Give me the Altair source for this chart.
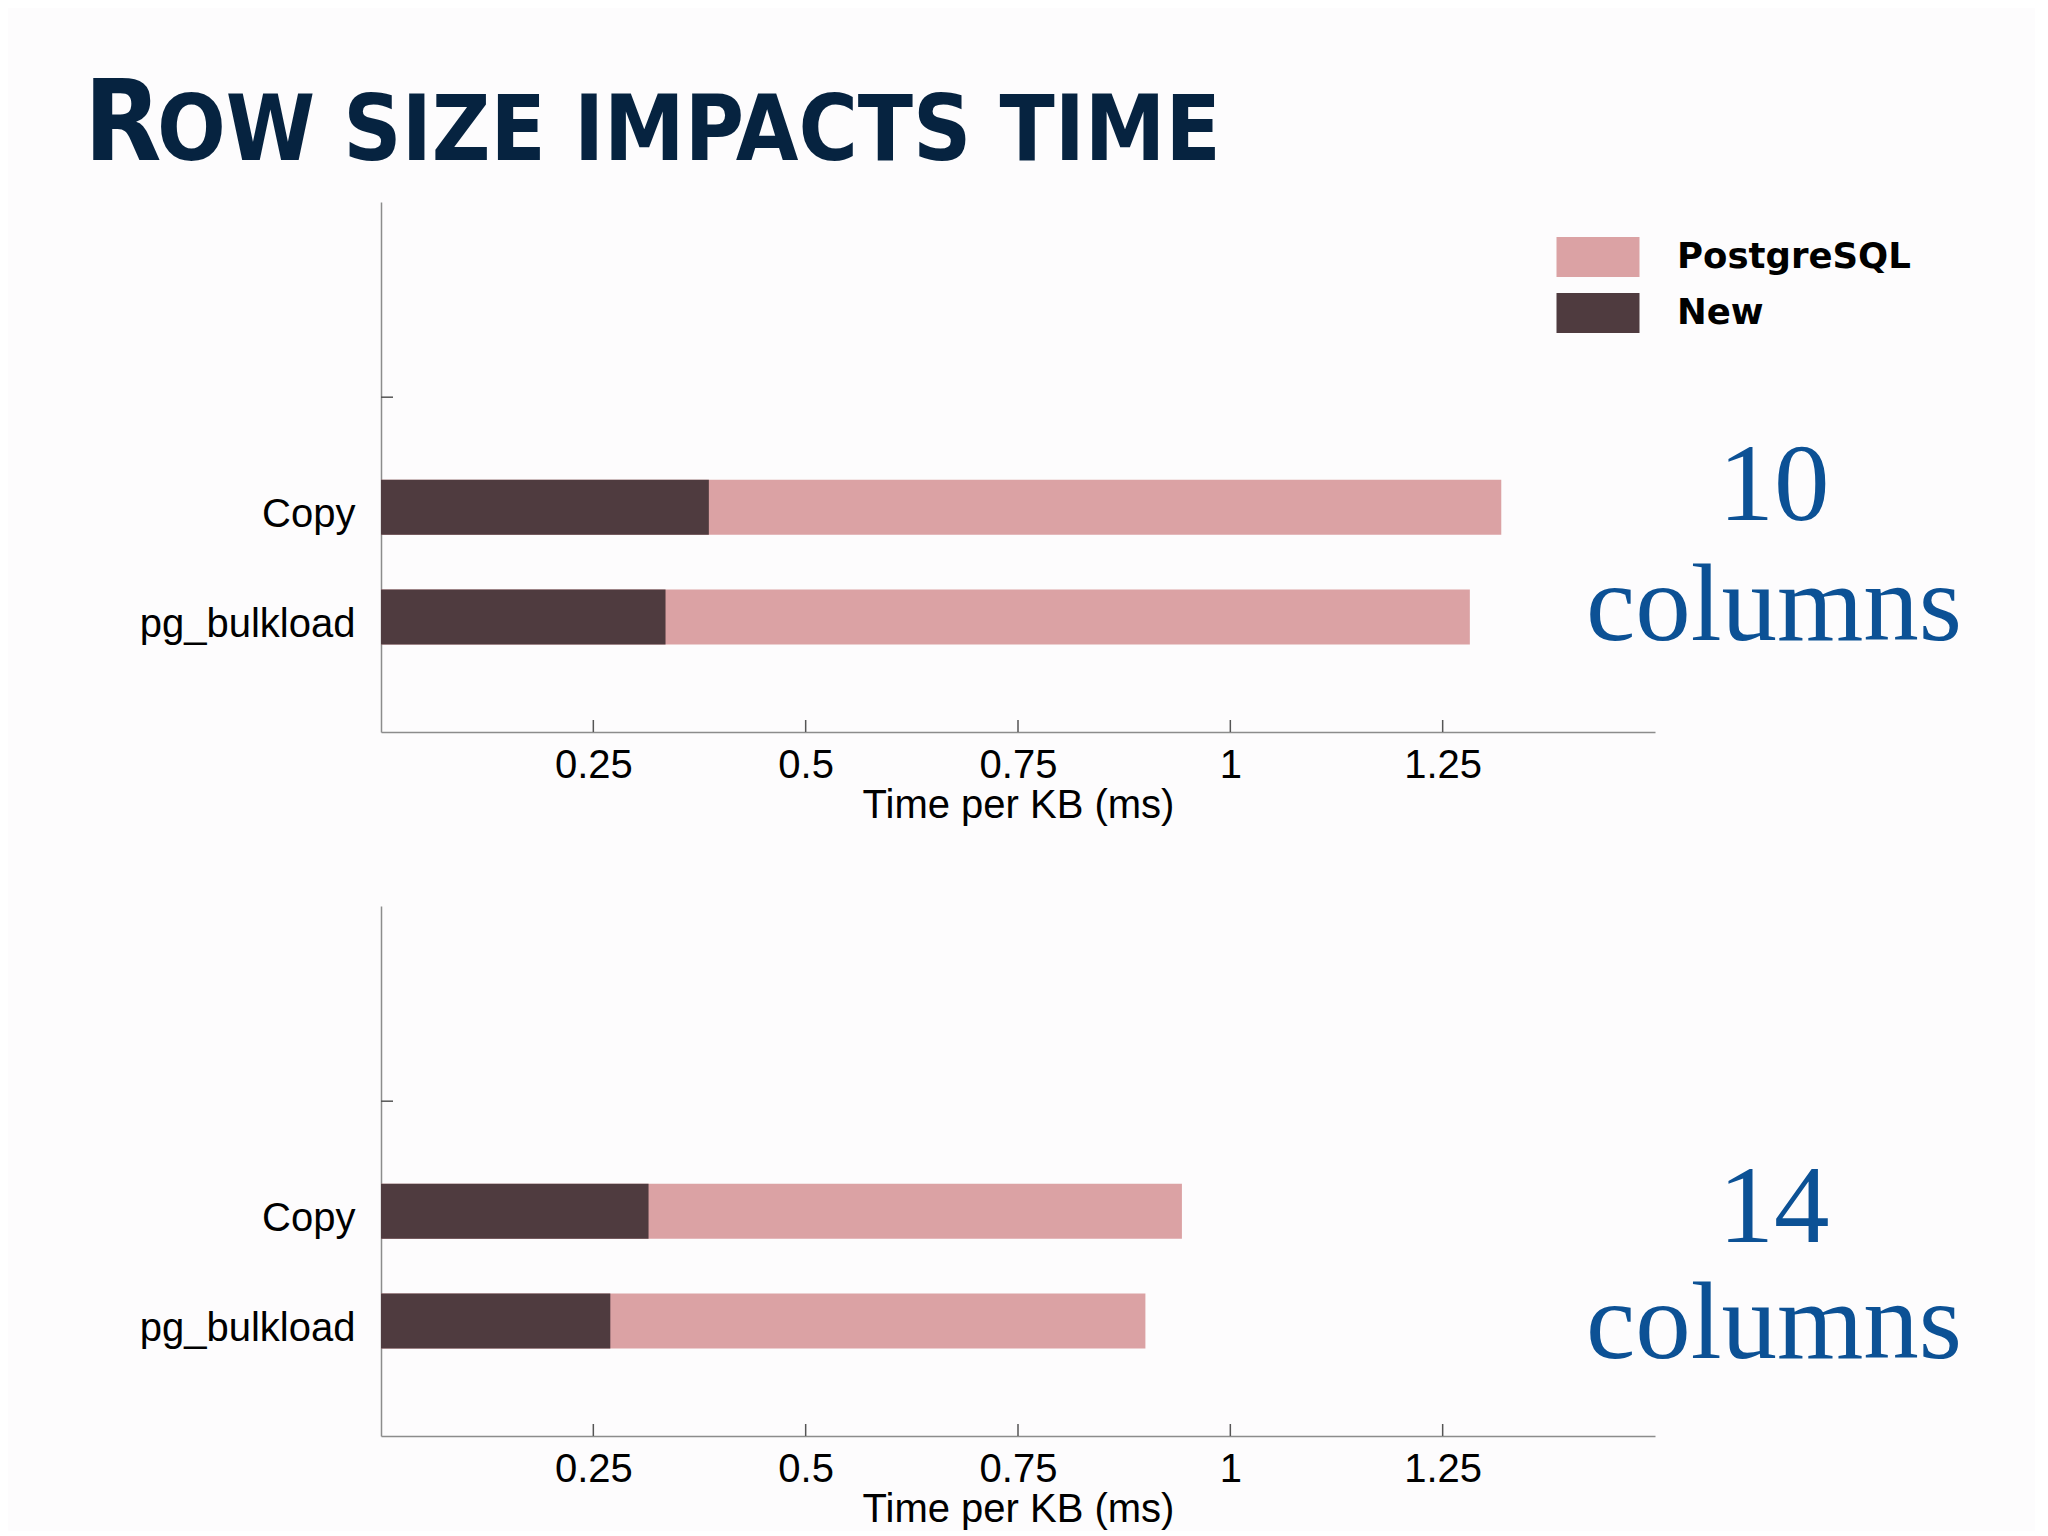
import altair as alt
import pandas as pd

# ---------------- data ----------------
categories = ["Copy", "pg_bulkload"]
series = ["PostgreSQL", "New"]
postgres_10 = [1.319, 1.282]
new_10 = [0.386, 0.335]
postgres_14 = [0.943, 0.900]
new_14 = [0.315, 0.270]
x_ticks = [0.25, 0.5, 0.75, 1, 1.25]
empty_slot_tick = [3]
title_first = ["R"]
title_rest = ["OW SIZE IMPACTS TIME"]
panel_number = ["10", "14"]
panel_word = ["columns", "columns"]
x_title = "Time per KB (ms)"

PINK = "#DBA2A4"
DARK = "#4F3B3F"
NAVY = "#062340"
BLUE = "#0C5195"
BG = "#FDFCFD"

W, H = 1274, 530
Y_MAX = 4.73

n = len(categories)
pos = {c: n - i for i, c in enumerate(categories)}
label_expr = " : ".join(
    [f"datum.value == {pos[c]} ? '{c}'" for c in categories[:-1]] + [f"'{categories[-1]}'"]
)


def panel(pg_vals, new_vals, number, word, legend, with_title, num_y, word_y):
    rows = []
    for s, vals in zip(series, [pg_vals, new_vals]):
        for c, v in zip(categories, vals):
            rows.append({"category": c, "pos": pos[c], "series": s, "value": v})
    df = pd.DataFrame(rows)

    xs = alt.Scale(domain=[0, 1.5], nice=False, zero=True)
    ys = alt.Scale(domain=[0, Y_MAX], nice=False, zero=True)

    if legend:
        leg = alt.Legend(
            title=None, orient="none", legendX=1197, legendY=35,
            symbolType="M-2.075,-1H2.075V1H-2.075Z", symbolSize=1600,
            symbolStrokeWidth=0, symbolOpacity=1,
            labelFont="DejaVu Sans", labelFontSize=35.5, labelFontWeight="bold",
            labelColor="black", labelOffset=59, rowPadding=16, labelLimit=500,
        )
    else:
        leg = None

    bars = alt.Chart(df).mark_bar(orient="horizontal", size=55).encode(
        x=alt.X("value:Q", stack=None, scale=xs,
                axis=alt.Axis(values=x_ticks, format="~g", title=x_title,
                              labelPadding=13, titlePadding=0)),
        y=alt.Y("pos:Q", scale=ys,
                axis=alt.Axis(values=list(pos.values()), labelExpr=label_expr,
                              title=None, labelPadding=26, labelOffset=7, labelLimit=400)),
        color=alt.Color("series:N", scale=alt.Scale(domain=series, range=[PINK, DARK]),
                        legend=leg),
    )

    xt = alt.Chart(pd.DataFrame({"v": x_ticks})).mark_rule(color="#555555", strokeWidth=1.5).encode(
        x=alt.X("v:Q", scale=xs), y=alt.value(H - 12), y2=alt.value(H)
    )
    yt = alt.Chart(pd.DataFrame({"v": empty_slot_tick})).mark_rule(color="#555555", strokeWidth=1.5).encode(
        y=alt.Y("v:Q", scale=ys), x=alt.value(0), x2=alt.value(12)
    )

    num_t = alt.Chart(pd.DataFrame({"t": [number]})).mark_text(
        font="Liberation Serif", fontSize=111, color=BLUE, align="center", baseline="alphabetic"
    ).encode(text="t:N", x=alt.value(1393), y=alt.value(num_y))
    word_t = alt.Chart(pd.DataFrame({"t": [word]})).mark_text(
        font="Liberation Serif", fontSize=111, color=BLUE, align="center", baseline="alphabetic"
    ).encode(text="t:N", x=alt.value(1393), y=alt.value(word_y))

    layers = [bars, xt, yt, num_t, word_t]
    if with_title:
        t1 = alt.Chart(pd.DataFrame({"t": title_first})).mark_text(
            font="Liberation Sans Narrow, DejaVu Sans Condensed, sans-serif", fontWeight="bold",
            fontSize=112, color=NAVY, align="left", baseline="alphabetic"
        ).encode(text="t:N", x=alt.value(-297), y=alt.value(-42))
        t2 = alt.Chart(pd.DataFrame({"t": title_rest})).mark_text(
            font="Liberation Sans Narrow, DejaVu Sans Condensed, sans-serif", fontWeight="bold",
            fontSize=90, color=NAVY, align="left", baseline="alphabetic"
        ).encode(text="t:N", x=alt.value(-224), y=alt.value(-42))
        layers += [t1, t2]
    return alt.layer(*layers).properties(width=W, height=H)


top = panel(postgres_10, new_10, panel_number[0], panel_word[0], True, True, 318, 438)
bottom = panel(postgres_14, new_14, panel_number[1], panel_word[1], False, False, 336, 452)

chart = (
    alt.vconcat(top, bottom, spacing=174, bounds="flush")
    .resolve_scale(color="independent")
    .properties(background=BG, padding={"left": 76, "top": 62, "right": 72, "bottom": 2})
    .configure_view(stroke=None)
    .configure_axis(
        labelFont="Liberation Sans", titleFont="Liberation Sans",
        labelFontSize=40, titleFontSize=40, titleFontWeight="normal",
        labelColor="black", titleColor="black",
        domainColor="#8c8c8c", domainWidth=1.5, grid=False, ticks=False,
    )
)

chart.save("out.html", embed_options={"renderer": "svg", "actions": False})
